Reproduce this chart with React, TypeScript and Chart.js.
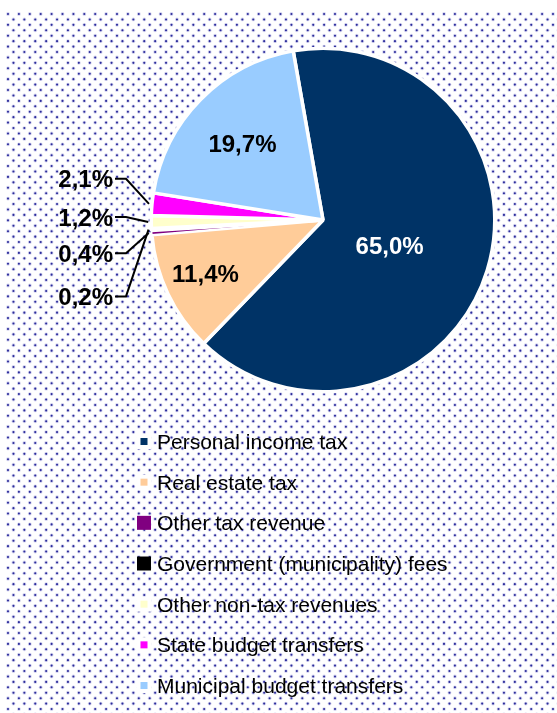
import React, { useEffect, useRef } from "react";
import { Chart, ArcElement, PieController } from "chart.js";

Chart.register(ArcElement, PieController);

const categories = [
  "Personal income tax",
  "Real estate tax",
  "Other tax revenue",
  "Government (municipality) fees",
  "Other non-tax revenues",
  "State budget transfers",
  "Municipal budget transfers",
];
const shares = [65.0, 11.4, 0.4, 0.2, 1.2, 2.1, 19.7];
const colors = ["#003366", "#FFCC99", "#800080", "#000000", "#FFFFCC", "#FF00FF", "#99CCFF"];

const fmt = (v: number) => v.toFixed(1).replace(".", ",") + "%";

// style settings (not data)
const innerLabelRadius: Record<number, number> = { 0: 0.414, 1: 0.752, 6: 0.647 };
const innerLabelTurn: Record<number, number> = { 0: 3.5, 1: 1, 6: -1 };
const outerLabelRow: Record<number, number> = { 5: -0.24, 4: -0.017, 2: 0.194, 3: 0.445 };
const largeLegendBox = [false, false, true, true, false, false, false];
const sliceBorder = [3.5, 3.5, 1.5, 3.5, 3.5, 3.5, 3.5];

const bgPlugin = {
  id: "bgDots",
  beforeDraw(chart: any) {
    const { ctx, width, height } = chart;
    ctx.save();
    ctx.fillStyle = "#ffffff";
    ctx.fillRect(0, 0, width, height);
    const dx = 5.45;
    const dy = 5.43;
    for (let j = 0; 14 + dy * j < height + 3; j++) {
      const y = 14 + dy * j;
      for (let i = j % 2; 8 + dx * i < width + 3; i += 2) {
        const x = 8 + dx * i;
        ctx.fillStyle = "rgba(160,160,220,0.45)";
        ctx.beginPath();
        ctx.arc(x, y, 1.9, 0, Math.PI * 2);
        ctx.fill();
        ctx.fillStyle = "rgb(45,45,155)";
        ctx.beginPath();
        ctx.arc(x, y, 1.05, 0, Math.PI * 2);
        ctx.fill();
      }
    }
    ctx.restore();
  },
};

const labelPlugin = {
  id: "sliceLabels",
  afterDatasetsDraw(chart: any) {
    const { ctx } = chart;
    const meta = chart.getDatasetMeta(0);
    const values: number[] = chart.data.datasets[0].data;
    ctx.save();
    ctx.font = 'bold 24px "Liberation Sans", Arial, sans-serif';
    meta.data.forEach((arc: any, i: number) => {
      const p = arc.getProps(["x", "y", "startAngle", "endAngle", "outerRadius"], true);
      const mid = (p.startAngle + p.endAngle) / 2;
      const r = p.outerRadius;
      const text = fmt(values[i]);
      if (innerLabelRadius[i] !== undefined) {
        const f = innerLabelRadius[i];
        const a = mid + (innerLabelTurn[i] * Math.PI) / 180;
        const lx = p.x + Math.cos(a) * r * f;
        const ly = p.y + Math.sin(a) * r * f;
        ctx.fillStyle = i === 0 ? "#ffffff" : "#000000";
        ctx.textAlign = "center";
        ctx.textBaseline = "alphabetic";
        ctx.fillText(text, lx, ly + 8.6);
      } else if (outerLabelRow[i] !== undefined) {
        const ax = p.x + Math.cos(mid) * (r + 3);
        const ay = p.y + Math.sin(mid) * (r + 3);
        const ly = p.y + outerLabelRow[i] * r;
        const textRight = p.x - r * 1.2227;
        const elbowX = p.x - r * 1.147;
        ctx.strokeStyle = "#000000";
        ctx.lineWidth = 2;
        ctx.beginPath();
        ctx.moveTo(textRight + 2, ly);
        ctx.lineTo(elbowX, ly);
        ctx.lineTo(ax, ay);
        ctx.stroke();
        ctx.fillStyle = "#000000";
        ctx.textAlign = "right";
        ctx.textBaseline = "alphabetic";
        ctx.fillText(text, textRight, ly + 8.6);
      }
    });
    ctx.restore();
  },
};

const legendPlugin = {
  id: "listLegend",
  afterDraw(chart: any) {
    const { ctx } = chart;
    const labels: string[] = chart.data.labels;
    const bg: string[] = chart.data.datasets[0].backgroundColor;
    const startY = chart.chartArea.bottom + 48;
    const step = 40.67;
    const boxX = 144;
    const textX = 157;
    ctx.save();
    ctx.font = '21px "Liberation Sans", Arial, sans-serif';
    ctx.textAlign = "left";
    ctx.textBaseline = "alphabetic";
    labels.forEach((lab, i) => {
      const cy = startY + step * i;
      if (largeLegendBox[i]) {
        ctx.fillStyle = bg[i];
        ctx.fillRect(boxX - 7, cy - 7, 14, 14);
      } else {
        ctx.fillStyle = "#ffffff";
        ctx.fillRect(boxX - 7.5, cy - 7.5, 15, 15);
        ctx.fillStyle = bg[i];
        ctx.fillRect(boxX - 3.5, cy - 3.5, 7, 7);
      }
      ctx.fillStyle = "#000000";
      ctx.fillText(lab, textX, cy + 7.5);
    });
    ctx.restore();
  },
};

export default function App() {
  const ref = useRef<HTMLCanvasElement | null>(null);
  useEffect(() => {
    if (!ref.current) return;
    const chart = new Chart(ref.current, {
      type: "pie",
      data: {
        labels: categories,
        datasets: [
          {
            data: shares,
            backgroundColor: colors,
            borderColor: "#ffffff",
            borderWidth: sliceBorder,
            rotation: -10,
          } as any,
        ],
      },
      options: {
        animation: false,
        responsive: true,
        maintainAspectRatio: false,
        layout: { padding: { left: 149.5, right: 60.5, top: 46.5, bottom: 319.5 } },
        plugins: { legend: { display: false }, tooltip: { enabled: false } } as any,
        events: [],
      },
      plugins: [bgPlugin, labelPlugin, legendPlugin],
    });
    return () => chart.destroy();
  }, []);
  return (
    <div style={{ position: "absolute", left: 0, top: 0, width: 557, height: 713 }}>
      <canvas ref={ref} />
    </div>
  );
}
